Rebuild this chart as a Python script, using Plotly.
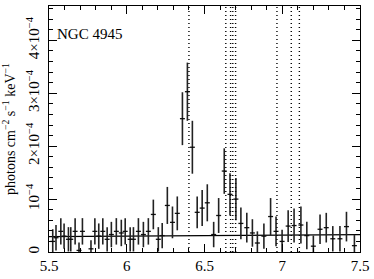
import plotly.graph_objects as go

# Spectrum data (flux in units of 1e-4 photons cm^-2 s^-1 keV^-1)
energy = [5.524, 5.545, 5.576, 5.597, 5.625, 5.640, 5.668, 5.693, 5.715, 5.770,
          5.795, 5.820, 5.846, 5.874, 5.901, 5.933, 5.965, 5.990, 6.022, 6.043,
          6.075, 6.107, 6.139, 6.171, 6.203, 6.228, 6.261, 6.294, 6.325, 6.358,
          6.390, 6.422, 6.453, 6.485, 6.518, 6.559, 6.591, 6.627, 6.664, 6.702,
          6.734, 6.772, 6.808, 6.840, 6.882, 6.925, 6.960, 6.999, 7.038, 7.076,
          7.120, 7.158, 7.200, 7.243, 7.283, 7.325, 7.371, 7.413, 7.464]
flux = [0.20, 0.27, 0.39, 0.30, 0.24, 0.24, 0.39, 0.03, 0.39, 0.06,
        0.39, 0.30, 0.39, 0.24, 0.33, 0.39, 0.36, 0.39, 0.24, 0.24,
        0.39, 0.33, 0.39, 0.71, 0.24, 0.31, 0.88, 0.56, 0.73, 2.52,
        3.03, 1.98, 0.75, 0.83, 0.93, 0.33, 0.69, 1.53, 1.09, 1.00,
        0.54, 0.46, 0.36, 0.17, 0.30, 0.67, 0.39, 0.20, 0.49, 0.50,
        0.51, 0.31, 0.11, 0.43, 0.46, 0.25, 0.25, 0.48, 0.12]
flux_err = [0.23, 0.24, 0.25, 0.24, 0.23, 0.23, 0.25, 0.15, 0.25, 0.16,
            0.25, 0.24, 0.25, 0.23, 0.24, 0.25, 0.25, 0.25, 0.23, 0.23,
            0.25, 0.24, 0.25, 0.28, 0.23, 0.24, 0.35, 0.30, 0.32, 0.50,
            0.55, 0.50, 0.30, 0.34, 0.35, 0.24, 0.33, 0.43, 0.40, 0.40,
            0.30, 0.28, 0.26, 0.22, 0.24, 0.35, 0.28, 0.22, 0.30, 0.32,
            0.35, 0.26, 0.20, 0.28, 0.28, 0.24, 0.24, 0.28, 0.20]
half_bin = 0.016

# Continuum model
model_energy = [5.5, 6.2, 6.8, 7.5]
model_flux = [0.29, 0.30, 0.31, 0.33]

# Line energies (keV): Fe K-alpha, Fe XXV triplet, Fe XXVI, Fe K-beta, Fe K edge
line_energies = [6.400, 6.637, 6.668, 6.682, 6.700, 6.966, 7.058, 7.110]

y_tickvals = [0, 1, 2, 3, 4]
y_ticktext = ["0", "10<sup>−4</sup>", "2×10<sup>−4</sup>",
              "3×10<sup>−4</sup>", "4×10<sup>−4</sup>"]
x_tickvals = [5.5, 6.0, 6.5, 7.0, 7.5]
x_ticktext = ["5.5", "6", "6.5", "7", "7.5"]

font = "Liberation Serif"

fig = go.Figure()

fig.add_trace(go.Scatter(
    x=model_energy, y=model_flux, mode="lines",
    line=dict(color="black", width=1.3), hoverinfo="skip", showlegend=False))

fig.add_trace(go.Scatter(
    x=energy, y=flux, mode="markers",
    marker=dict(size=1, color="black"),
    error_x=dict(type="constant", value=half_bin, width=0, thickness=1.3, color="#111"),
    error_y=dict(type="data", array=flux_err, width=0, thickness=1.6, color="#222"),
    showlegend=False))

for e in line_energies:
    fig.add_shape(type="line", xref="x", yref="paper", x0=e, x1=e, y0=0, y1=1,
                  line=dict(color="black", width=1.4, dash="1px,3px"))

fig.add_annotation(text="NGC 4945", xref="paper", yref="paper", x=0.02, y=0.885,
                   xanchor="left", yanchor="middle", showarrow=False,
                   font=dict(family=font, size=15, color="black"))

axis_common = dict(showline=True, linecolor="black", linewidth=1.2, mirror="ticks",
                   ticks="inside", tickcolor="black", tickwidth=1.2, ticklen=8,
                   showgrid=False, zeroline=False,
                   tickfont=dict(family=font, size=15, color="black"))

fig.update_xaxes(range=[5.5, 7.5], tickmode="array", tickvals=x_tickvals,
                 ticktext=x_ticktext,
                 minor=dict(dtick=0.1, ticks="inside", ticklen=4, tickcolor="black",
                            tickwidth=1.2, showgrid=False),
                 **axis_common)
fig.update_yaxes(range=[0, 4.65], tickmode="array", tickvals=y_tickvals,
                 ticktext=y_ticktext, tickangle=-90, ticklabelstandoff=3,
                 minor=dict(dtick=0.2, tick0=0, ticks="inside", ticklen=4,
                            tickcolor="black", tickwidth=1.2, showgrid=False),
                 title=dict(text="photons cm<sup>−2</sup> s<sup>−1</sup> keV<sup>−1</sup>",
                            font=dict(family=font, size=14, color="black"), standoff=4),
                 **axis_common)

fig.update_layout(width=374, height=279,
                  margin=dict(l=49, r=11, t=5, b=23),
                  plot_bgcolor="white", paper_bgcolor="white",
                  font=dict(family=font, color="black"))

fig.write_html("out.html", config={"displayModeBar": False},
               post_script="document.body.style.margin='0';document.body.style.overflow='hidden';")
